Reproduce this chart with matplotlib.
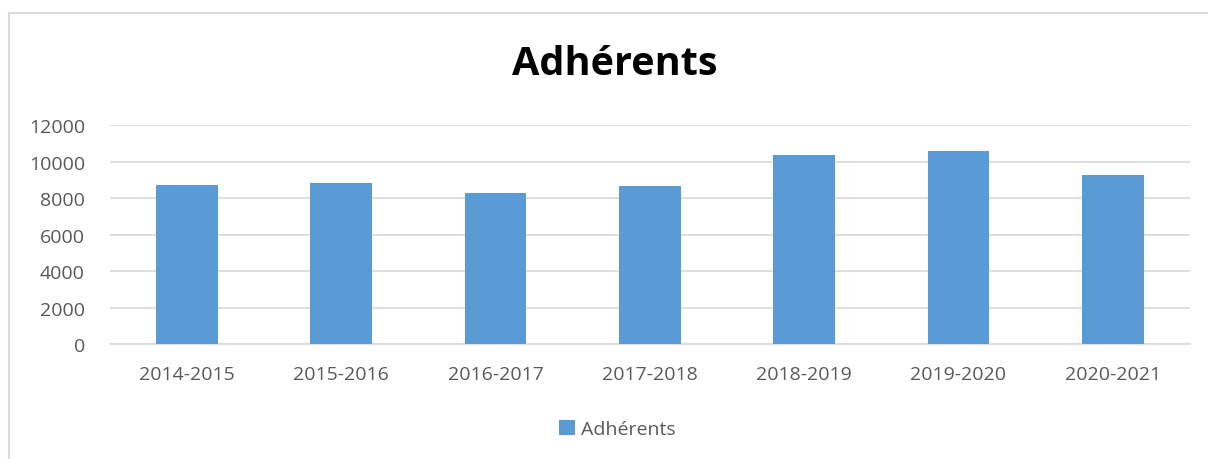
import matplotlib
matplotlib.use('Agg')
from matplotlib import pyplot as plt
from matplotlib.lines import Line2D

saisons = ['2014-2015', '2015-2016', '2016-2017', '2017-2018',
           '2018-2019', '2019-2020', '2020-2021']
adherents = [8734, 8844, 8258, 8641, 10340, 10559, 9244]
yticks = [0, 2000, 4000, 6000, 8000, 10000, 12000]

plt.rcParams['font.family'] = ['Open Sans', 'DejaVu Sans']

fig = plt.figure(figsize=(12.08, 4.6), dpi=100)
ax = fig.add_axes([0.091, 0.25, 0.894, 0.476])

x = range(len(saisons))
ax.bar(x, adherents, width=0.4, color='#5B9BD5', label='Adhérents', zorder=3)

ax.set_xlim(-0.5, len(saisons) - 0.5)
ax.set_ylim(0, 12000)
ax.set_yticks(yticks)
ax.set_xticks(list(x))
ax.set_xticklabels(saisons)
ax.tick_params(axis='both', length=0, labelsize=14, labelcolor='#595959')
ax.tick_params(axis='x', pad=15)
ax.tick_params(axis='y', pad=18)
ax.grid(axis='y', color='#D9D9D9', linewidth=1.2, zorder=0)
for s in ['top', 'right', 'left']:
    ax.spines[s].set_visible(False)
ax.spines['bottom'].set_color('#D9D9D9')
ax.spines['bottom'].set_linewidth(1.2)

fig.text(0.509, 0.86, 'Adhérents', ha='center', va='center',
         fontsize=28.5, fontweight='bold', color='black')

ax.legend(loc='center', bbox_to_anchor=(0.47, -0.39), frameon=False,
          fontsize=14, handlelength=0.8, handleheight=0.8, handletextpad=0.3,
          labelcolor='#595959')

# cadre du graphique
fig.add_artist(Line2D([0.0075, 1.0], [0.97, 0.97], transform=fig.transFigure,
                      color='#D9D9D9', linewidth=1.5))
fig.add_artist(Line2D([0.0075, 0.0075], [0.0, 0.97], transform=fig.transFigure,
                      color='#D9D9D9', linewidth=1.5))

fig.savefig('out.png', dpi=100)
